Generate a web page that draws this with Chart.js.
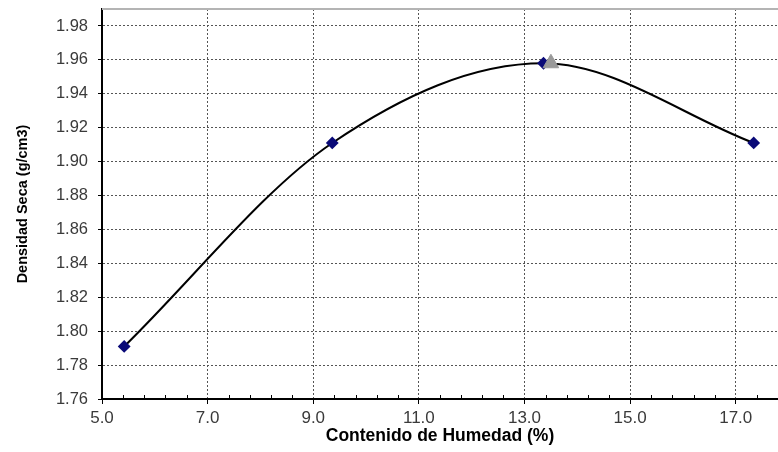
<!DOCTYPE html>
<html>
<head>
<meta charset="utf-8">
<script src="https://cdn.jsdelivr.net/npm/chart.js@4.4.1/dist/chart.umd.min.js"></script>
<style>
    html, body { margin: 0; padding: 0; background: #fff; overflow: hidden; }
    #wrap { width: 778px; height: 452px; }
</style>
</head>
<body>
<div id="wrap"><canvas id="proctorChart"></canvas></div>
<script>
// datos del ensayo
const humedad = [5.42, 9.36, 13.36, 17.34];
const densidad = [1.791, 1.911, 1.958, 1.911];
const humedadOptima = [13.5];
const densidadMaxima = [1.958];
const xTicks = [5.0, 7.0, 9.0, 11.0, 13.0, 15.0, 17.0];
const yTicks = [1.76, 1.78, 1.80, 1.82, 1.84, 1.86, 1.88, 1.90, 1.92, 1.94, 1.96, 1.98];

/**
 *
 */
const extrasPlugin = {
    id: "extras",
    afterDraw(chart) {
        const ctx = chart.ctx;
        const area = chart.chartArea;
        const x = chart.scales.x;

        ctx.save();
        // borde superior gris
        ctx.strokeStyle = "#b4b4b4";
        ctx.lineWidth = 2;
        ctx.beginPath();
        ctx.moveTo(area.left, area.top);
        ctx.lineTo(area.right, area.top);
        ctx.stroke();

        // marcas menores del eje x
        ctx.strokeStyle = "#000";
        ctx.lineWidth = 1;
        for (let i = 1; i <= 32; i++) {
            if (i % 5 == 0) continue;
            const px = Math.round(x.getPixelForValue(5 + i * 0.4)) + 0.5;
            ctx.beginPath();
            ctx.moveTo(px, area.bottom);
            ctx.lineTo(px, area.bottom - 4);
            ctx.stroke();
        }
        ctx.restore();
    },
};

const curva = humedad.map((h, i) => ({ x: h, y: densidad[i] }));
const maximo = humedadOptima.map((h, i) => ({ x: h, y: densidadMaxima[i] }));

const data = {
    datasets: [
        {
            data: maximo,
            pointStyle: "triangle",
            pointRadius: 9,
            backgroundColor: "#9a9a9a",
            borderColor: "#9a9a9a",
            showLine: false,
            order: 0,
        },
        {
            data: curva,
            showLine: true,
            cubicInterpolationMode: "monotone",
            borderColor: "#000",
            borderWidth: 2,
            pointStyle: "rectRot",
            pointRadius: 5,
            pointBackgroundColor: "#0a0a78",
            pointBorderColor: "#0a0a78",
            order: 1,
        },
    ],
};

const config = {
    type: "scatter",
    data: data,
    options: {
        responsive: true,
        maintainAspectRatio: false,
        animation: false,
        layout: {
            autoPadding: false,
            padding: { top: 9, right: 0, left: 0, bottom: 0 },
        },
        plugins: {
            legend: { display: false },
            tooltip: { enabled: false },
        },
        scales: {
            x: {
                type: "linear",
                min: 5.0,
                max: 17.8,
                afterBuildTicks: (scale) => {
                    scale.ticks = xTicks.map((v) => ({ value: v }));
                },
                afterFit: (scale) => {
                    scale.height = 53;
                    scale.paddingLeft = 0;
                    scale.paddingRight = 0;
                },
                ticks: {
                    padding: 4,
                    color: "#3a3a3a",
                    font: { family: "Liberation Sans", size: 17 },
                    callback: (v) => Number(v).toFixed(1),
                },
                grid: {
                    color: "#555",
                    lineWidth: 1,
                    tickLength: 5,
                    tickColor: "#000",
                    tickBorderDash: [],
                },
                border: {
                    color: "#000",
                    width: 2,
                    dash: [2, 2],
                },
                title: {
                    display: true,
                    text: "Contenido de Humedad (%)",
                    color: "#000",
                    font: { family: "Liberation Sans", size: 17.5, weight: "bold" },
                    padding: { top: 0, bottom: 5 },
                },
            },
            y: {
                type: "linear",
                min: 1.76,
                max: 1.99,
                afterBuildTicks: (scale) => {
                    scale.ticks = yTicks.map((v) => ({ value: v }));
                },
                afterFit: (scale) => {
                    scale.width = 102;
                    scale.paddingTop = 0;
                    scale.paddingBottom = 0;
                },
                ticks: {
                    padding: 10,
                    color: "#3a3a3a",
                    font: { family: "Liberation Sans", size: 16.5 },
                    callback: (v) => Number(v).toFixed(2),
                },
                grid: {
                    color: "#555",
                    lineWidth: 1,
                    tickLength: 4,
                    tickColor: "#000",
                    tickBorderDash: [],
                },
                border: {
                    color: "#000",
                    width: 2,
                    dash: [2, 2],
                },
                title: {
                    display: true,
                    text: "Densidad Seca (g/cm3)",
                    color: "#000",
                    font: { family: "Liberation Sans", size: 14.5, weight: "bold" },
                    padding: { top: 14, bottom: 0 },
                },
            },
        },
    },
    plugins: [extrasPlugin],
};

new Chart(document.getElementById("proctorChart"), config);
</script>
</body>
</html>
